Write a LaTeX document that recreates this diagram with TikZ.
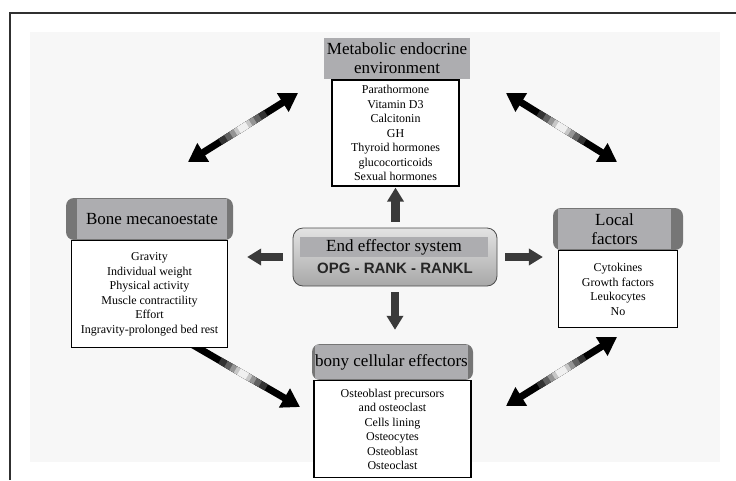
\documentclass[tikz,border=0pt]{standalone}
\usepackage{fontspec}
\setmainfont{Liberation Serif}
\setsansfont{Liberation Sans}
\usetikzlibrary{positioning,arrows.meta,backgrounds}
\definecolor{tabgray}{HTML}{ADADB0}
\definecolor{tabdark}{HTML}{767676}
\definecolor{pushgray}{HTML}{3A3A3A}
\definecolor{panelbg}{HTML}{F7F7F7}
\definecolor{framegray}{HTML}{303030}

\begin{document}
\begin{tikzpicture}[
    x=1pt, y=-1pt,
    hdr/.style={rectangle, fill=tabgray, inner sep=0pt, align=center, font=\fontsize{17}{19}\selectfont},
    tab/.style={rectangle, rounded corners=8pt, fill=tabdark, inner sep=0pt},
    lst/.style={rectangle, draw=black, line width=1.2pt, fill=white, inner sep=0pt, align=center, font=\fontsize{12}{14.5}\selectfont},
    core/.style={rectangle, rounded corners=10pt, draw=gray!60!black, line width=0.8pt, top color=gray!22, bottom color=gray!68, inner sep=0pt},
    push/.style={-{Triangle[width=16pt,length=14pt]}, line width=8.5pt, draw=pushgray},
    link/.style 2 args={{Triangle[width=21pt,length=18pt]}-{Triangle[width=21pt,length=18pt]}, line width=7pt, draw=black,
        postaction={draw=black!80, -, shorten <={#1-27pt}, shorten >={#2-27pt}},
        postaction={draw=black!62, -, shorten <={#1-20pt}, shorten >={#2-20pt}},
        postaction={draw=black!42, -, shorten <={#1-14pt}, shorten >={#2-14pt}},
        postaction={draw=black!22, -, shorten <={#1-9pt}, shorten >={#2-9pt}},
        postaction={draw=black!6, -, shorten <={#1-5pt}, shorten >={#2-5pt}}}
]
\useasboundingbox (0,0) rectangle (736,480);

% --- frame and light panel ---
\fill[panelbg] (30,32) rectangle (720,462);
\coordinate (fbl) at (10,480);
\coordinate (ftl) at (10,12.5);
\coordinate (ftr) at (736,12.5);
\draw[framegray, line width=2pt] (fbl) -- (ftl) -- (ftr);

% --- double arrows between the outer groups (drawn first, they slip under the boxes) ---
\coordinate (tl1) at (188,162);  \coordinate (tl2) at (298,93);
\coordinate (tr1) at (506,93);   \coordinate (tr2) at (617,162);
\coordinate (bl1) at (162,327);  \coordinate (bl2) at (300,407);
\coordinate (br1) at (506,406);  \coordinate (br2) at (617,337);
\draw[link={65pt}{65pt}] (tl1) -- (tl2);
\draw[link={65pt}{65pt}] (tr1) -- (tr2);
\draw[link={94pt}{66pt}] (bl1) -- (bl2);
\draw[link={65pt}{65pt}] (br1) -- (br2);

% --- metabolic endocrine environment ---
\node[hdr, minimum width=146pt, minimum height=41pt] (methead) at (397,58.5) {Metabolic endocrine\\environment};
\node[lst, minimum width=127pt, minimum height=106pt] (metlist) at (395.5,133)
    {Parathormone\\Vitamin D3\\Calcitonin\\GH\\Thyroid hormones\\glucocorticoids\\Sexual hormones};

% --- bone mecanoestate ---
\node[tab, minimum width=167pt, minimum height=42pt] (bonetab) at (149.5,219) {};
\node[hdr, minimum width=150pt, minimum height=40pt] (bonehead) at (152,219) {Bone mecanoestate};
\node[lst, minimum width=156pt, minimum height=107pt, below=0pt of bonetab] (bonelist)
    {Gravity\\Individual weight\\Physical activity\\Muscle contractility\\Effort\\Ingravity-prolonged bed rest};

% --- local factors ---
\node[tab, minimum width=130pt, minimum height=42pt] (loctab) at (618,229) {};
\node[hdr, minimum width=113pt, minimum height=40pt] (lochead) at (614.5,229) {Local\\factors};
\node[lst, minimum width=119pt, minimum height=77pt, below=0pt of loctab] (loclist)
    {Cytokines\\Growth factors\\Leukocytes\\No};

% --- bony cellular effectors ---
\node[tab, minimum width=161pt, minimum height=36pt] (bonytab) at (392.5,362) {};
\node[hdr, minimum width=153pt, minimum height=34pt] (bonyhead) at (391.5,362) {bony cellular effectors};
\node[lst, minimum width=157pt, minimum height=97pt, below=0pt of bonytab] (bonylist)
    {Osteoblast precursors\\and osteoclast\\Cells lining\\Osteocytes\\Osteoblast\\Osteoclast};

% --- end effector system in the middle ---
\node[core, minimum width=204pt, minimum height=58pt] (core) at (395,257) {};
\node[hdr, minimum width=188pt, minimum height=20pt] (corehead) at (394,247) {End effector system};
\node[font=\sffamily\bfseries\fontsize{15}{15}\selectfont, text=black!85] (corekey) at (395,268.5) {OPG - RANK - RANKL};

% --- arrows out of the end effector system ---
\draw[push, shorten <=6pt, shorten >=1pt] (core.north -| metlist.south) -- (metlist.south);
\draw[push, shorten <=10pt, shorten >=19pt] (core.west) -- (core.west -| bonelist.east);
\draw[push, shorten <=8pt, shorten >=15pt] (core.east) -- (core.east -| loclist.west);
\draw[push, shorten <=6pt, shorten >=14pt] (core.south) -- (core.south |- bonytab.north);

\end{tikzpicture}
\end{document}
